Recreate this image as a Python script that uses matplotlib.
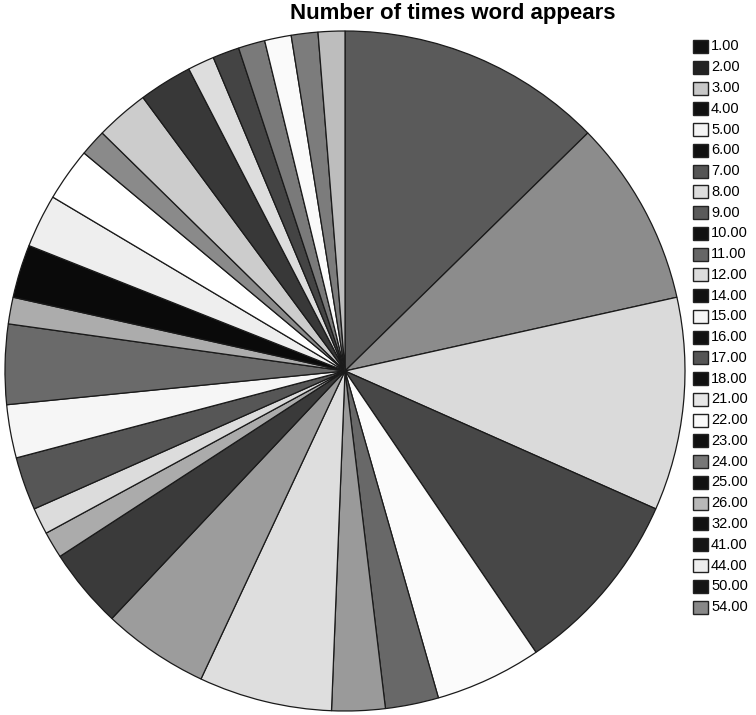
import matplotlib.pyplot as plt
from matplotlib.patches import Rectangle

plt.rcParams["font.family"] = ["Liberation Sans", "DejaVu Sans"]

# word-frequency categories and how many words fall into each
categories = [1, 2, 3, 4, 5, 6, 7, 8, 9, 10, 11, 12, 14, 15, 16, 17, 18,
              21, 22, 23, 24, 25, 26, 32, 41, 44, 50, 54]
counts = [10, 7, 8, 7, 4, 2, 2, 5, 4, 3, 1, 1, 2, 2, 3, 1, 2,
          2, 2, 1, 2, 2, 1, 1, 1, 1, 1, 1]
labels = [f"{c:.2f}" for c in categories]

# grey shades of the wedges, clockwise from 12 o'clock
wedge_grays = ["#5a5a5a", "#8c8c8c", "#dadada", "#474747", "#fbfbfb",
               "#686868", "#9a9a9a", "#dedede", "#9c9c9c", "#3a3a3a",
               "#ababab", "#dcdcdc", "#565656", "#f6f6f6", "#6a6a6a",
               "#acacac", "#0a0a0a", "#eeeeee", "#ffffff", "#8a8a8a",
               "#cccccc", "#383838", "#dddddd", "#444444", "#7a7a7a",
               "#fafafa", "#7c7c7c", "#bdbdbd"]

# legend swatches
swatch_grays = ["#111111", "#222222", "#c8c8c8", "#111111", "#f4f4f4",
                "#111111", "#555555", "#dddddd", "#5a5a5a", "#111111",
                "#666666", "#dcdcdc", "#111111", "#f6f6f6", "#111111",
                "#555555", "#111111", "#e6e6e6", "#fafafa", "#111111",
                "#777777", "#111111", "#b8b8b8", "#111111", "#151515",
                "#eeeeee", "#151515", "#888888"]

W, H = 756, 715
fig = plt.figure(figsize=(W / 100, H / 100), dpi=100)

cx, cy, r = 345, 371, 340
lim = 1.01
ax = fig.add_axes([(cx - r * lim) / W, (H - cy - r * lim) / H,
                   2 * r * lim / W, 2 * r * lim / H])
ax.pie(counts, colors=wedge_grays, startangle=90, counterclock=False,
       radius=1.0,
       wedgeprops={"edgecolor": "#1a1a1a", "linewidth": 0.9})
ax.set_xlim(-lim, lim)
ax.set_ylim(-lim, lim)
ax.set_aspect("equal")
ax.axis("off")

fig.text(453 / W, 1 - 14 / H, "Number of times word appears",
         ha="center", va="center", fontsize=16, fontweight="bold")

# legend column on the right
y0, step = 46.5, 20.76
for i, (lab, col) in enumerate(zip(labels, swatch_grays)):
    yc = y0 + i * step
    fig.patches.append(Rectangle((693 / W, 1 - (yc + 6.5) / H), 15 / W, 13 / H,
                                 transform=fig.transFigure, facecolor=col,
                                 edgecolor="#222222", linewidth=1.0))
    fig.text(711 / W, 1 - yc / H, lab, ha="left", va="center", fontsize=10.5)

fig.savefig("out.png", dpi=100)
